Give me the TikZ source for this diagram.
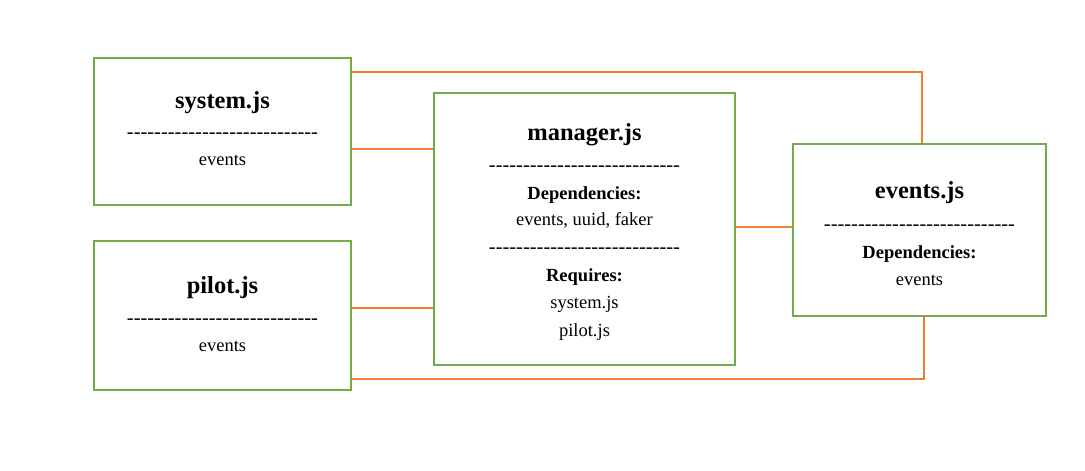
\documentclass[tikz,border=0pt]{standalone}
\usepackage{fontspec}
\setmainfont{Liberation Serif}
\usetikzlibrary{positioning}
\definecolor{boxgreen}{HTML}{70AD47}
\definecolor{linkorange}{HTML}{ED7D31}
\newcommand\dashline{{\fontsize{20.5}{28}\selectfont\foreach \i in {1,...,28}{-}}}
\newcommand\ttl[1]{{\fontsize{24.5}{28}\selectfont\bfseries #1}}
\begin{document}
\begin{tikzpicture}[x=1pt,y=-1pt,
  module/.style={draw=boxgreen,line width=1.6pt,fill=white,inner sep=0pt},
  modtext/.style={align=center,inner sep=0pt,font=\fontsize{18.5}{28}\selectfont},
  link/.style={draw=linkorange,line width=1.6pt}]
\useasboundingbox (0,0) rectangle (1085,471);
\node[module,minimum width=257,minimum height=147,
  label={[modtext,yshift=2.5pt]center:{\ttl{system.js}\\[2pt] \dashline\\[-1pt] events}}] (system) at (222.5,131.5) {};
\node[module,minimum width=257,minimum height=149,
  label={[modtext,yshift=1.5pt]center:{\ttl{pilot.js}\\[3pt] \dashline\\[-1pt] events}}] (pilot) at (222.5,315.5) {};
\node[module,minimum width=301,minimum height=272,
  label={[modtext,yshift=-2.5pt]center:{\ttl{manager.js}\\[3pt] \dashline\\ \textbf{Dependencies:}\\[-2pt] events, uuid, faker\\ \dashline\\ \textbf{Requires:}\\[-1pt] system.js\\ pilot.js}}] (manager) at (584.5,229) {};
\node[module,minimum width=253,minimum height=172,
  label={[modtext,yshift=-4pt]center:{\ttl{events.js}\\[4pt] \dashline\\ \textbf{Dependencies:}\\[-1pt] events}}] (events) at (919.5,230) {};
\draw[link] ([yshift=-15pt]system.north east) -| ([xshift=2.5pt]events.north);
\draw[link] ([yshift=-17.5pt]system.east) coordinate (s1) -- (s1 -| manager.west);
\draw[link] ([yshift=7.5pt]pilot.east) coordinate (p1) -- (p1 -| manager.west);
\draw[link] ([yshift=12pt]pilot.south east) -| ([xshift=4.5pt]events.south);
\draw[link] ([yshift=2pt]manager.east) coordinate (m1) -- (m1 -| events.west);
\end{tikzpicture}
\end{document}
